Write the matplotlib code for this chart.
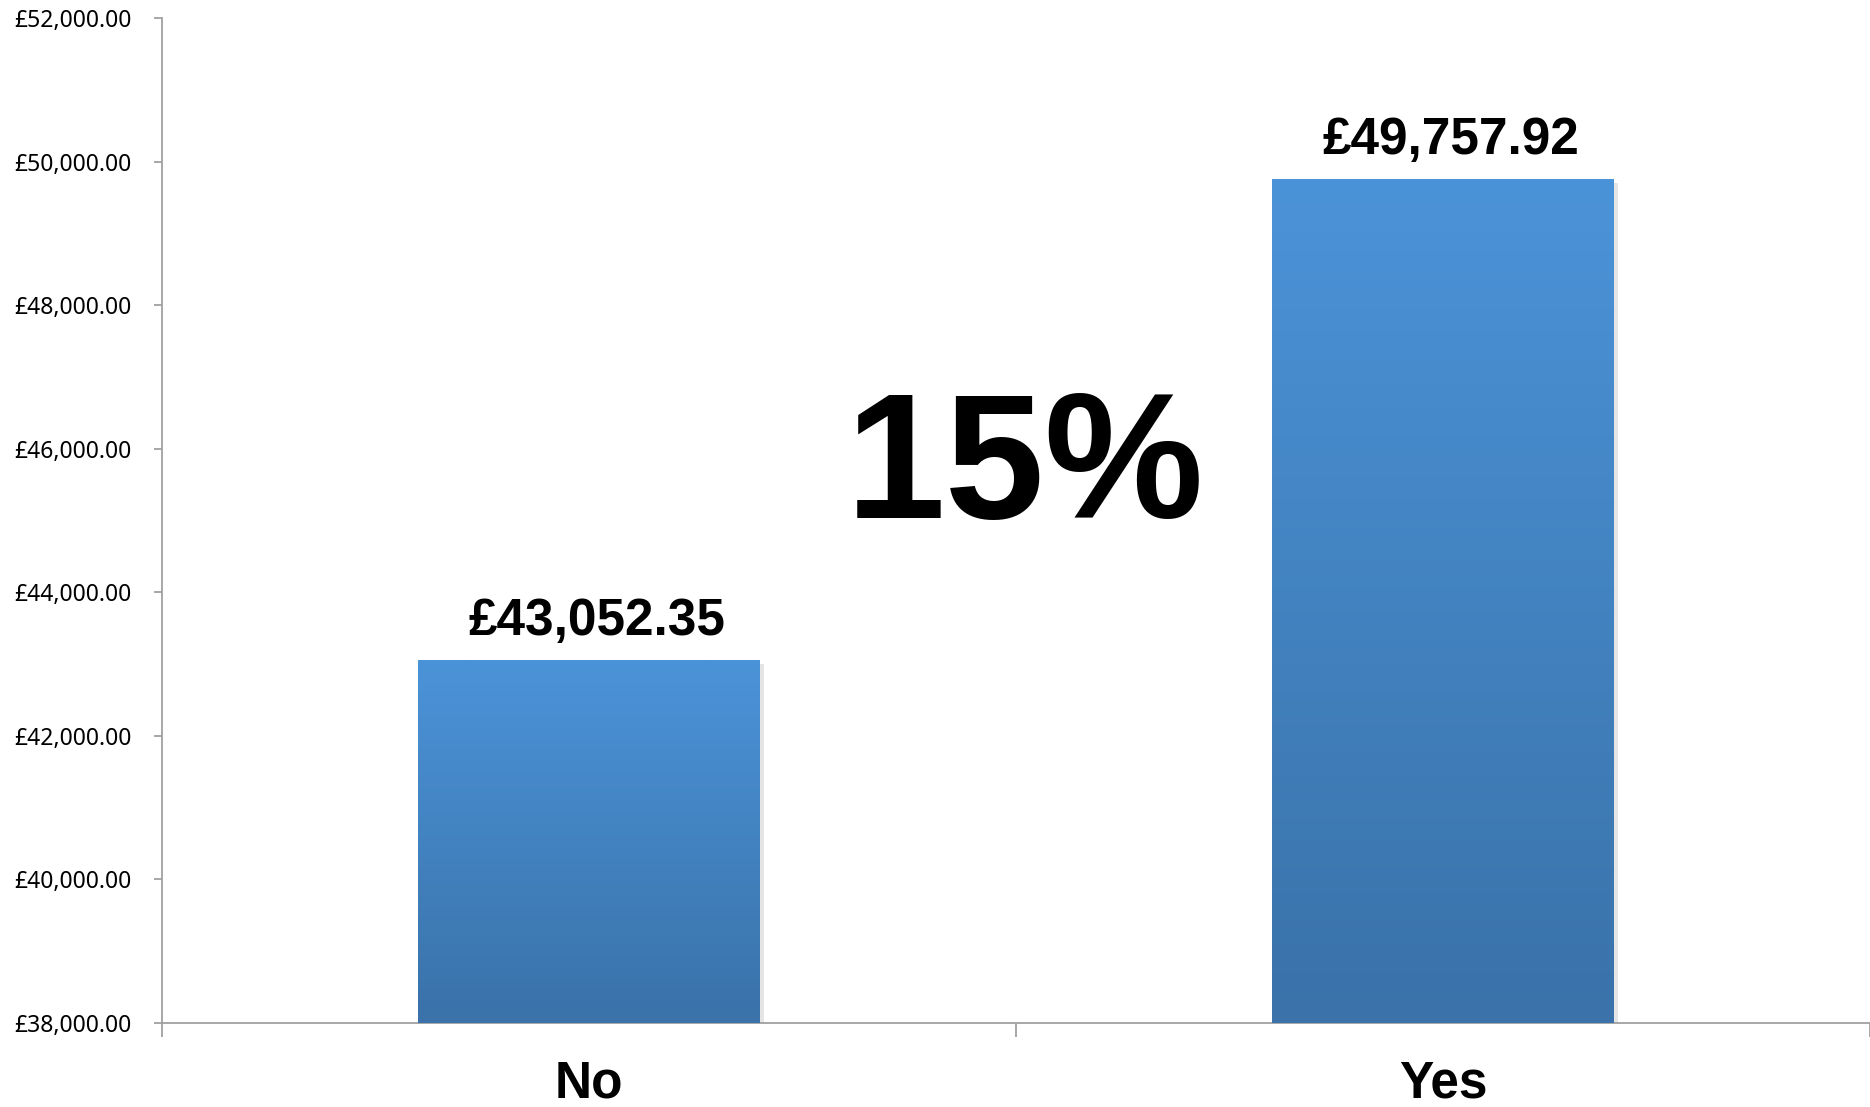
import matplotlib
matplotlib.use('Agg')

import matplotlib.pyplot as plt
import matplotlib.patheffects as pe
import numpy as np
from matplotlib.ticker import FuncFormatter
from matplotlib.colors import LinearSegmentedColormap

######   Data

categories = ["No", "Yes"]
values = [43052.35, 49757.92]
change_label = "15%"
y_min = 38000
y_max = 52000
y_step = 2000

############

axis_grey = "#a0a0a0"
top_blue = "#4b93d8"
bottom_blue = "#3a72a9"

fig = plt.figure(figsize=(18.7, 11.07), dpi=100)
ax = fig.add_axes([162 / 1870, 84 / 1107, 1 - 162 / 1870, 1005 / 1107])

x = np.arange(len(categories))
bars = ax.bar(x, values, width=0.4, bottom=0, color=bottom_blue, zorder=2,
              path_effects=[pe.SimplePatchShadow(offset=(3, -3), alpha=0.10, shadow_rgbFace="k"),
                            pe.Normal()])

# vertical gradient on each bar
grad = LinearSegmentedColormap.from_list("bar", [bottom_blue, top_blue])
col = np.linspace(0, 1, 256).reshape(-1, 1)
for b in bars:
    x0, w = b.get_x(), b.get_width()
    im = ax.imshow(col, cmap=grad, origin="lower", aspect="auto",
                   extent=[x0, x0 + w, y_min, b.get_height()], zorder=3)
    im.set_clip_path(b)

ax.set_xlim(-0.5, len(categories) - 0.5)
ax.set_ylim(y_min, y_max)

for spine in ["top", "right"]:
    ax.spines[spine].set_visible(False)
for spine in ["left", "bottom"]:
    ax.spines[spine].set_color(axis_grey)
    ax.spines[spine].set_linewidth(1.3)

ax.set_yticks(np.arange(y_min, y_max + 1, y_step))
ax.yaxis.set_major_formatter(FuncFormatter(lambda v, p: "£{:,.2f}".format(v)))
ax.tick_params(axis="y", length=6, width=1.3, color=axis_grey, pad=16, labelsize=16.5)
for t in ax.get_yticklabels():
    t.set_fontfamily("Noto Sans")

ax.set_xticks(x)
ax.set_xticklabels(categories, fontfamily="Liberation Sans", fontweight="bold", fontsize=37)
ax.tick_params(axis="x", which="major", length=0, pad=26)
ax.set_xticks(np.arange(-0.5, len(categories)), minor=True)
ax.tick_params(axis="x", which="minor", length=10, width=1.3, color=axis_grey)

for b, v in zip(bars, values):
    ax.annotate("£{:,.2f}".format(v), (b.get_x() + b.get_width() / 2, v),
                xytext=(6, 18), textcoords="offset points", ha="center", va="baseline",
                fontfamily="Liberation Sans", fontweight="bold", fontsize=37, zorder=5)

ax.text(0.51, 45030, change_label, ha="center", va="baseline",
        fontfamily="Liberation Sans", fontweight="bold", fontsize=129, zorder=5)

fig.savefig("out.png", dpi=100)
